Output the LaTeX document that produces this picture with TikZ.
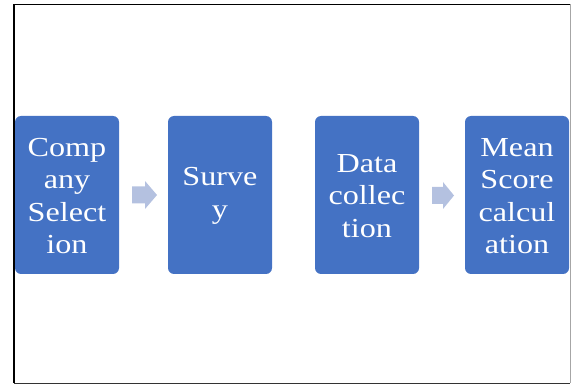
\documentclass[tikz,border=0pt]{standalone}
\usepackage{fontspec}
\setmainfont{Liberation Serif}
\definecolor{boxblue}{HTML}{4472C4}
\definecolor{arrowblue}{HTML}{B4C1E0}
\tikzset{
  stepbox/.style={fill=boxblue, rounded corners=6pt},
  steptext/.style={text=white, align=center, font=\fontsize{27.5}{32.5}\selectfont, inner sep=0pt, xscale=1.17},
  flowarrow/.style={fill=arrowblue, draw=none}
}
\begin{document}
\begin{tikzpicture}[x=1pt,y=-1pt]
\useasboundingbox (0,0) rectangle (571,385);
% frame
\draw[line width=1.6pt, black] (14,383) -- (14,4.5) -- (570,4.5);
\draw[line width=0.8pt, gray!70] (570,4.5) -- (570,383);
\draw[line width=1pt, black!80] (14,383.5) -- (570,383.5);
% boxes
\path[stepbox] (15,116) rectangle (119,274);
\path[stepbox] (168,116) rectangle (272,274);
\path[stepbox] (315,116) rectangle (419,274);
\path[stepbox] (465,116) rectangle (569,274);
\node[steptext] (a) at (67,196) {Comp\\any\\Select\\ion};
\node[steptext] (b) at (220,196) {Surve\\y};
\node[steptext] (c) at (367,196) {Data\\collec\\tion};
\node[steptext] (d) at (517,196) {Mean\\Score\\calcul\\ation};
% arrows
\path[flowarrow] (132,186.5) -- (145,186.5) -- (145,181) -- (157,195) -- (145,209) -- (145,203.5) -- (132,203.5) -- cycle;
\path[flowarrow] (432,187) -- (443,187) -- (443,182) -- (454,195.5) -- (443,209) -- (443,204) -- (432,204) -- cycle;
\end{tikzpicture}
\end{document}
